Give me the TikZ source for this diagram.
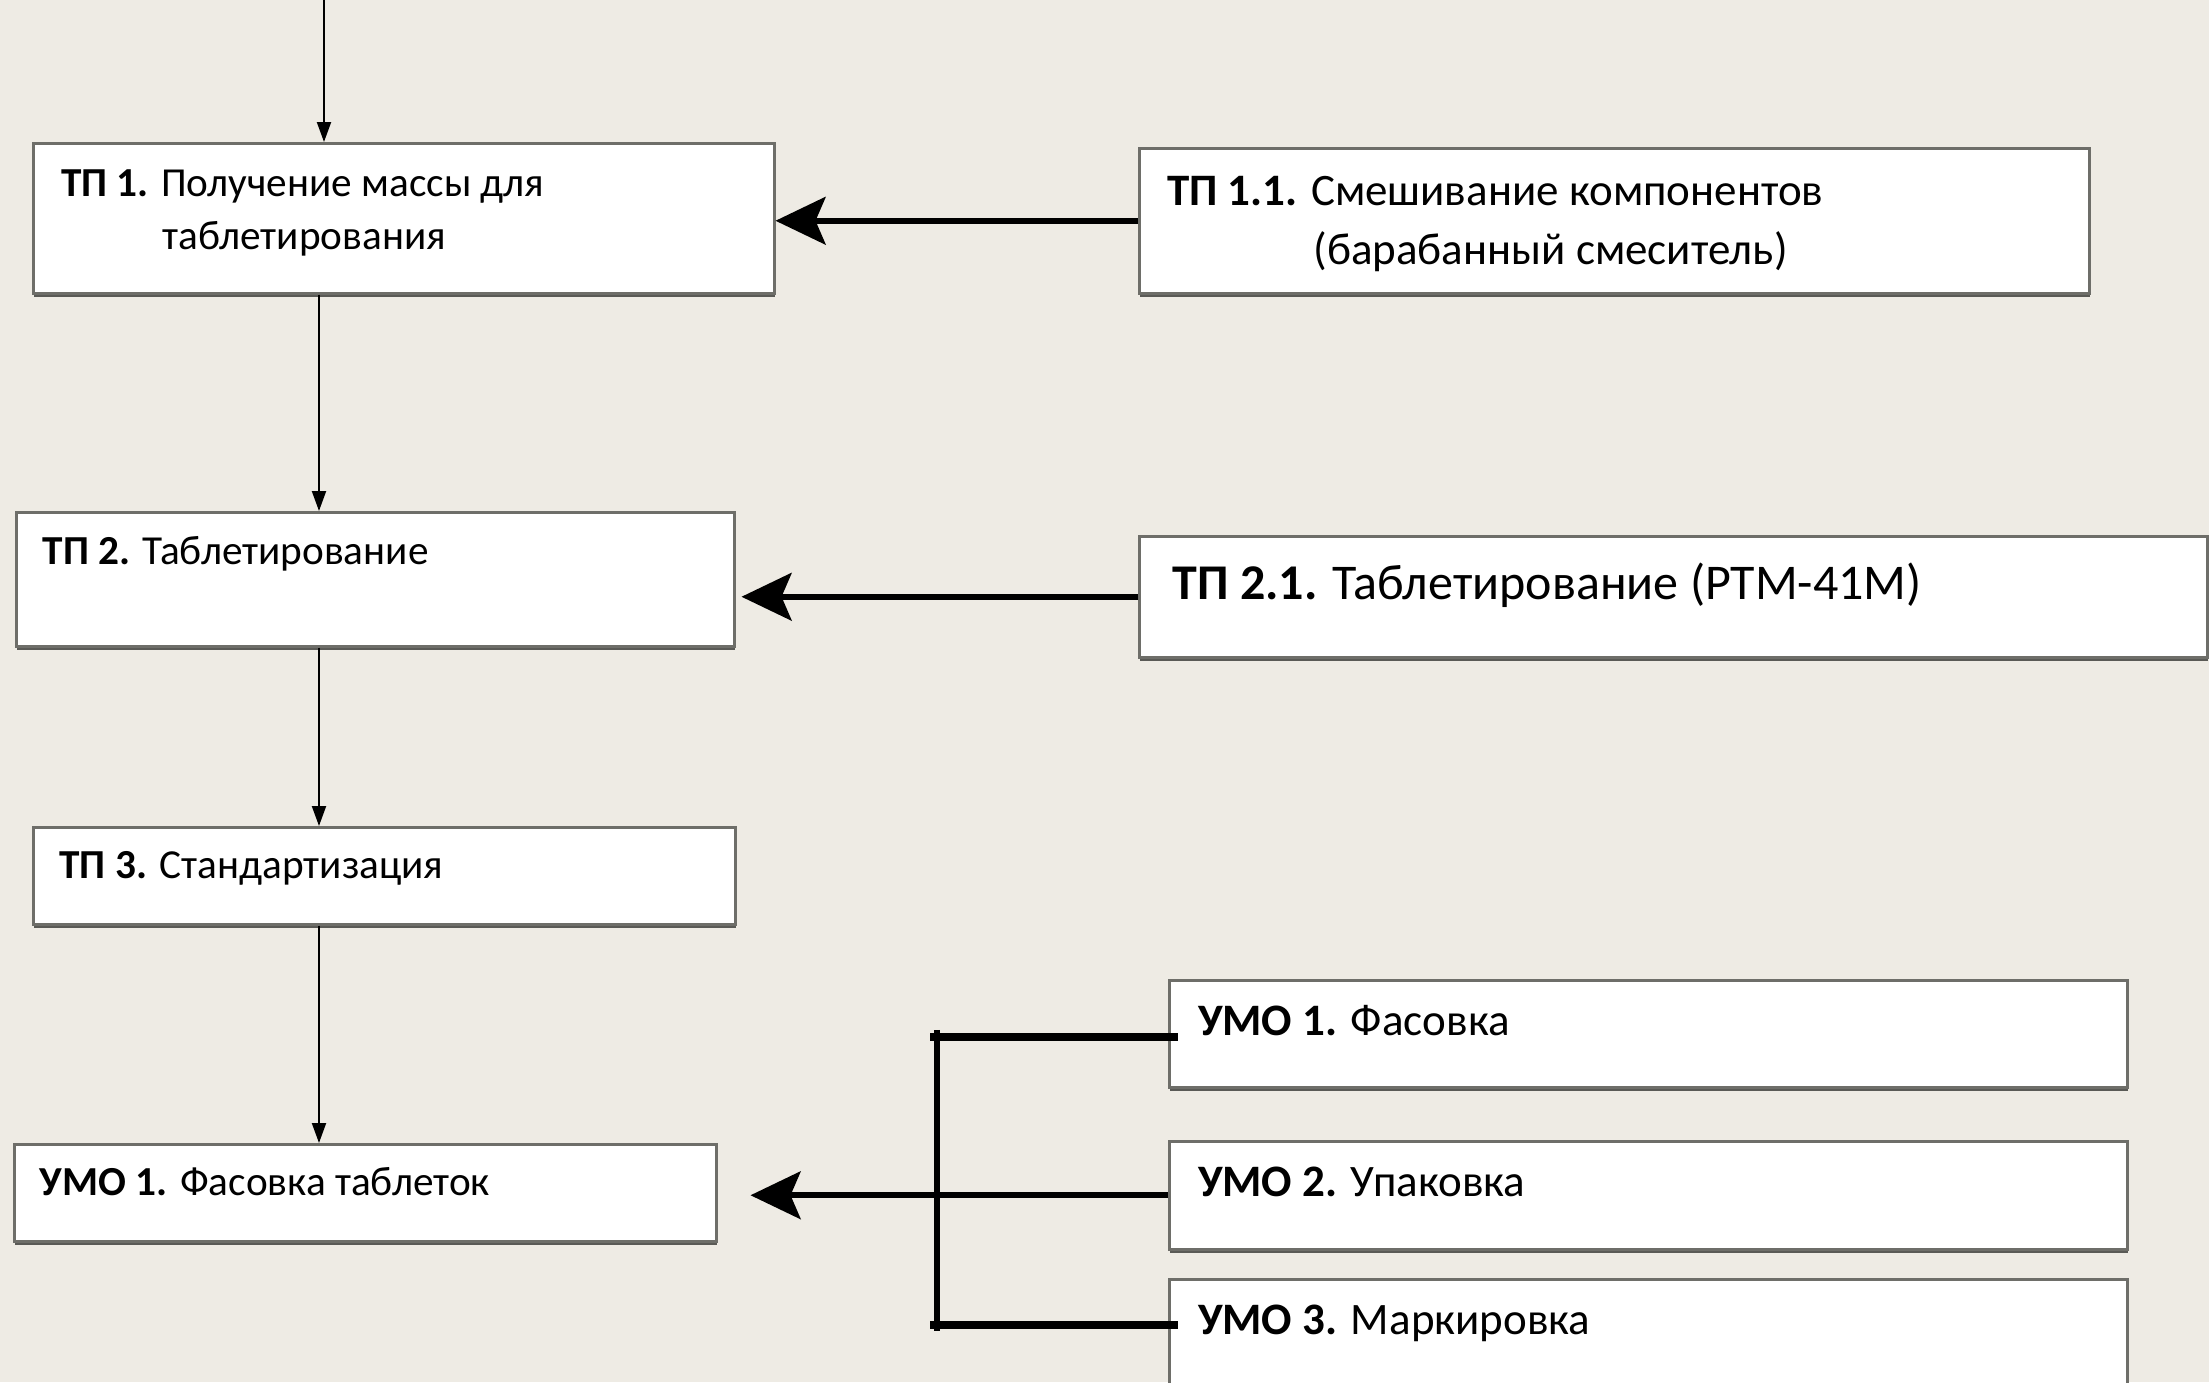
\documentclass[tikz,border=0pt]{standalone}
\usepackage{fontspec}
\setmainfont{Carlito}
\usepackage{tikz}
\usetikzlibrary{arrows.meta,shadows,calc}
\definecolor{page_bg}{RGB}{238,235,228}
\definecolor{box_edge}{RGB}{110,110,105}
\definecolor{box_shade}{RGB}{90,90,86}

\begin{document}
\begin{tikzpicture}[x=0.4pt,y=-0.4pt]
    \tikzstyle{blk}=[draw=box_edge, line width=1pt, fill=white, rectangle, inner sep=0pt, anchor=north west, drop shadow={shadow xshift=0.3pt, shadow yshift=-1.6pt, fill=box_shade, opacity=1}]
    \tikzstyle{lbl}=[inner sep=0pt, anchor=mid west, font=\fontsize{16.5}{20}\selectfont]
    \tikzstyle{wide}=[style=lbl, font=\fontsize{18}{22}\selectfont]
    \tikzstyle{big}=[style=lbl, font=\fontsize{20}{24}\selectfont]
    \tikzstyle{flow}=[-{Triangle[length=8pt,width=5.6pt]}, line width=0.8pt]
    \tikzstyle{feed}=[-{Stealth[length=20pt,width=19pt,inset=4pt]}, line width=2.4pt]
    \tikzstyle{bar}=[line width=3.2pt]

    \fill[page_bg] (0,0) rectangle (2209,1382);
    \useasboundingbox (0,0) rectangle (2209,1382);

    \node[blk, minimum width=296.4pt, minimum height=60pt]   (tp1)   at (32,142)   {};
    \node[blk, minimum width=380pt,   minimum height=58pt]   (tp11)  at (1138,147) {};
    \node[blk, minimum width=287.2pt, minimum height=53.6pt] (tp2)   at (15,511)   {};
    \node[blk, minimum width=427.2pt, minimum height=48.4pt] (tp21)  at (1138,535) {};
    \node[blk, minimum width=280.8pt, minimum height=38.8pt] (tp3)   at (32,826)   {};
    \node[blk, minimum width=280.8pt, minimum height=38.8pt] (umo1)  at (13,1143)  {};
    \node[blk, minimum width=383.2pt, minimum height=42.8pt] (pack1) at (1168,979)  {};
    \node[blk, minimum width=383.2pt, minimum height=43.2pt] (pack2) at (1168,1140) {};
    \node[blk, minimum width=383.2pt, minimum height=43.2pt] (pack3) at (1168,1278) {};

    \node[lbl]  at ([shift={(28.6,49)}]tp1.north west)    {\textbf{ТП 1.} Получение массы для};
    \node[lbl]  at ([shift={(130,102)}]tp1.north west)    {таблетирования};
    \node[wide] at ([shift={(28.5,53)}]tp11.north west)   {\textbf{ТП 1.1.} Смешивание компонентов};
    \node[wide] at ([shift={(175,112)}]tp11.north west)   {(барабанный смеситель)};
    \node[lbl]  at ([shift={(27.3,48)}]tp2.north west)    {\textbf{ТП 2.} Таблетирование};
    \node[big]  at ([shift={(34,59)}]tp21.north west)     {\textbf{ТП 2.1.} Таблетирование (РТМ-41М)};
    \node[lbl]  at ([shift={(27,47)}]tp3.north west)      {\textbf{ТП 3.} Стандартизация};
    \node[lbl]  at ([shift={(26.4,47)}]umo1.north west)   {\textbf{УМО 1.} Фасовка таблеток};
    \node[wide] at ([shift={(29.5,51)}]pack1.north west)  {\textbf{УМО 1.} Фасовка};
    \node[wide] at ([shift={(29.5,51)}]pack2.north west)  {\textbf{УМО 2.} Упаковка};
    \node[wide] at ([shift={(29.5,51)}]pack3.north west)  {\textbf{УМО 3.} Маркировка};

    \coordinate (src) at (324,0);
    \coordinate (col) at (319,0);
    \coordinate (brk) at (937,0);

    \draw[flow] (src) -- (src |- tp1.north);
    \draw[flow] (tp1.south -| col) -- (tp2.north -| col);
    \draw[flow] (tp2.south -| col) -- (tp3.north -| col);
    \draw[flow] (tp3.south -| col) -- (umo1.north -| col);

    \draw[feed] (tp11.west) -- (tp11.west -| tp1.east);
    \draw[feed] (tp21.west) -- ($(tp21.west -| tp2.east)+(6,0)$);
    \draw[feed] (pack2.west) -- ($(pack2.west -| umo1.east)+(33,0)$);

    \draw[bar] ($(pack1.west -| brk)+(-7,3)$) -- ($(pack1.west)+(10,3)$);
    \draw[bar] ($(pack3.west -| brk)+(-7,-8)$) -- ($(pack3.west)+(10,-8)$);
    \draw[line width=2.4pt] ($(pack1.west -| brk)+(0,-4)$) -- ($(pack3.west -| brk)+(0,-2)$);
\end{tikzpicture}
\end{document}
